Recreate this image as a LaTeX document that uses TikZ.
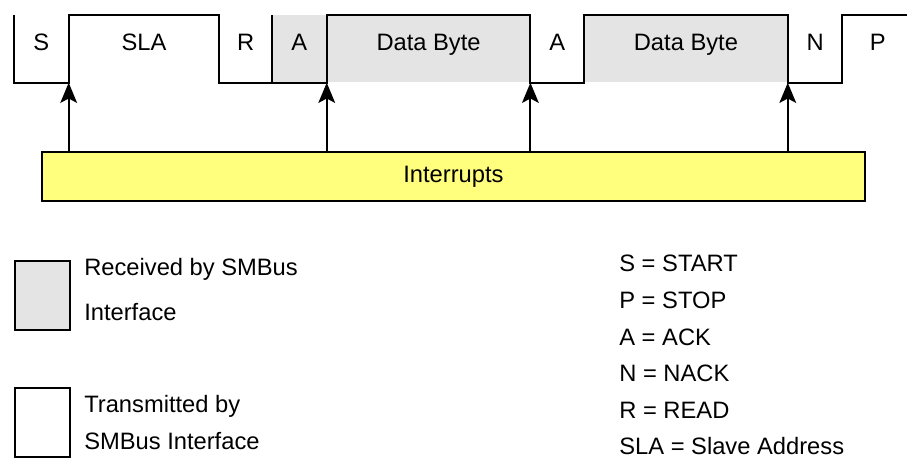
\documentclass[tikz,border=0pt]{standalone}
\usepackage{fontspec}
\setmainfont{Liberation Sans}
\usetikzlibrary{arrows.meta, positioning}

\definecolor{rxgray}{RGB}{228,228,228}
\definecolor{irqyellow}{RGB}{255,255,125}

\begin{document}
\begin{tikzpicture}[
    x=0.02cm, y=-0.02cm,
    every node/.style={font=\fontsize{13.5}{16}\selectfont, inner sep=0pt},
    field/.style={minimum height=1.34cm, text height=0.7cm, text depth=0.64cm, anchor=north west},
    rx/.style={field, fill=rxgray},
    frame/.style={line width=1.1pt, line join=miter},
    irq/.style={-{Stealth[length=11.5pt, width=9.5pt, inset=2.5pt]}, line width=1.1pt},
    key/.style={draw, line width=1.1pt, minimum width=1.1cm, minimum height=1.38cm, anchor=north west},
    keytext/.style={align=left, anchor=west}
]
    \useasboundingbox (0,0) rectangle (907,459);

    % Frame fields
    \node[field, minimum width=1.08cm] (s) at (14,15) {S};
    \node[field, minimum width=3cm, right=0pt of s] (sla) {SLA};
    \node[field, minimum width=1.04cm, right=0pt of sla] (r) {R};
    \node[rx, minimum width=1.08cm, right=0pt of r] (ackA) {A};
    \node[rx, minimum width=4.06cm, right=0pt of ackA] (data1) {Data Byte};
    \node[field, minimum width=1.06cm, right=0pt of data1] (ackB) {A};
    \node[rx, minimum width=4.06cm, right=0pt of ackB] (data2) {Data Byte};
    \node[field, minimum width=1.08cm, right=0pt of data2] (nack) {N};
    \node[field, minimum width=1.4cm, right=0pt of nack] (p) {P};

    % Signal outline
    \draw[frame] (s.north west) -- (s.south west) -- (sla.south west) -- (sla.north west)
        -- (sla.north east) -- (sla.south east) -- (data1.south west) -- (data1.north west)
        -- (data1.north east) -- (data1.south east) -- (data2.south west) -- (data2.north west)
        -- (data2.north east) -- (data2.south east) -- (p.south west) -- (p.north west)
        -- (p.north east);
    \draw[frame] (ackA.south west) -- (ackA.north west);

    % Interrupts
    \node[draw, line width=1.1pt, fill=irqyellow, minimum width=16.46cm, minimum height=0.98cm,
        anchor=north west] (ints) at (41,151) {Interrupts};
    \draw[irq] (ints.north -| sla.west) -- (sla.south west);
    \draw[irq] (ints.north -| data1.west) -- (data1.south west);
    \draw[irq] (ints.north -| ackB.west) -- (ackB.south west);
    \draw[irq] (ints.north -| nack.west) -- (nack.south west);

    % Legend
    \node[key, fill=rxgray] (keyrx) at (14,260) {};
    \node[keytext, right=0.26cm of keyrx, yshift=3.4pt, font=\fontsize{13.5}{25.6}\selectfont]
        (keyrxtext) {Received by SMBus\\Interface};
    \node[key] (keytx) at (14,387) {};
    \node[keytext, right=0.26cm of keytx, font=\fontsize{13.5}{21}\selectfont]
        (keytxtext) {Transmitted by\\SMBus Interface};

    \node[align=left, anchor=north west, font=\fontsize{13.5}{20.8}\selectfont] (abbrev) at (619,255)
        {S = START\\P = STOP\\A = ACK\\N = NACK\\R = READ\\SLA = Slave Address};
\end{tikzpicture}
\end{document}
